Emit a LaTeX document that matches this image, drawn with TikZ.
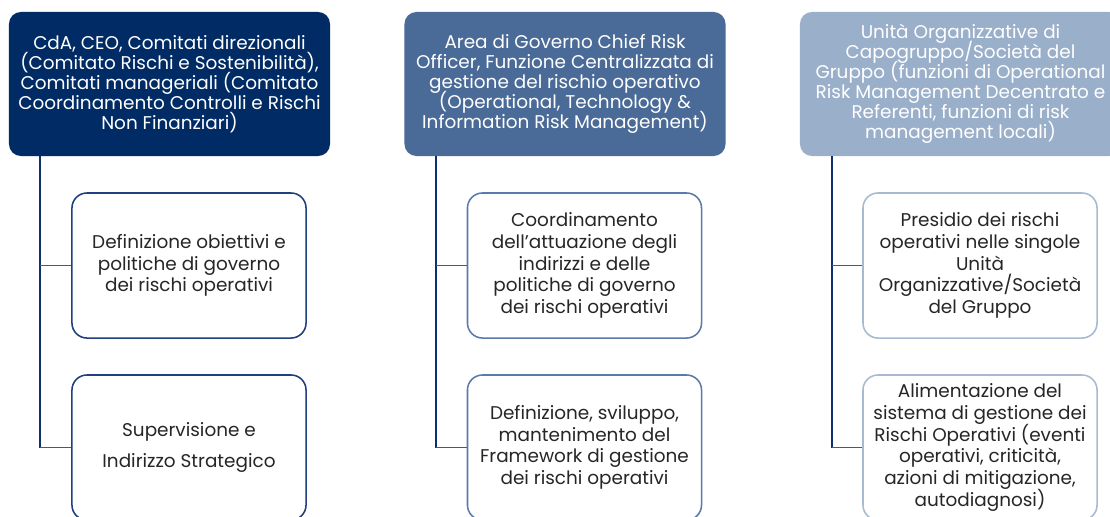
\documentclass[tikz,border=0pt]{standalone}
\usepackage{fontspec}
\setmainfont{Poppins}
\usepackage{tikz}
\usetikzlibrary{positioning,calc}
\definecolor{navA}{HTML}{002B64}
\definecolor{navB}{HTML}{4A6A98}
\definecolor{navC}{HTML}{9AAFCA}
\definecolor{edgeA}{HTML}{1F3F80}
\definecolor{edgeB}{HTML}{5A7AAA}
\definecolor{edgeC}{HTML}{A8BAD2}
\definecolor{trunkcol}{HTML}{0F2F6C}
\definecolor{branchcol}{HTML}{3A5A92}
\definecolor{ink}{HTML}{262626}
\newcommand{\headfont}{\fontsize{13.1pt}{14.3pt}\selectfont\lineskiplimit=-10pt\relax}
\newcommand{\taskfont}{\fontsize{13.1pt}{15.4pt}\selectfont\lineskiplimit=-10pt\relax}

\begin{document}
\begin{tikzpicture}[
    x=0.025cm, y=-0.025cm,
    head/.style={rectangle, rounded corners=0.3cm, fill=#1, draw=none,
                 minimum width=8.025cm, minimum height=3.6cm, inner sep=2pt,
                 text=white, align=center, font=\headfont},
    task/.style={rectangle, rounded corners=0.375cm, draw=#1, fill=white, line width=1.1pt,
                 minimum width=5.85cm, minimum height=3.625cm, inner sep=2pt,
                 text=ink, align=center, font=\taskfont},
    trunk/.style={line width=1.1pt, color=trunkcol},
    branch/.style={line width=1.1pt, color=branchcol}
  ]

% ---------------- frame ----------------
\clip (0,0) rectangle (1110,516);
\fill[white] (0,0) rectangle (1110,516);

% ---------------- geometry ----------------
\def\yh{84}       % centre of head row
\def\ya{265.5}    % centre of first task row
\def\yb{447.5}    % centre of second task row

% ---------------- heads ----------------
\node[head=navA] (h1) at (169.5, \yh)
  {CdA, CEO, Comitati direzionali\\(Comitato Rischi e Sostenibilità),\\Comitati manageriali (Comitato\\Coordinamento Controlli e Rischi\\Non Finanziari)};
\node[head=navB] (h2) at (565, \yh)
  {Area di Governo Chief Risk\\Officer, Funzione Centralizzata di\\gestione del rischio operativo\\(Operational, Technology \&\\Information Risk Management)};
\node[head=navC] (h3) at (960.5, \yh)
  {Unità Organizzative di\\Capogruppo/Società del\\Gruppo (funzioni di Operational\\Risk Management Decentrato e\\Referenti, funzioni di risk\\management locali)};

% ---------------- tasks ----------------
\node[task=edgeA] (t1a) at (189, \ya)
  {Definizione obiettivi e\\politiche di governo\\dei rischi operativi};
\node[task=edgeA] (t1b) at (189, \yb)
  {Supervisione e\\[7pt]Indirizzo Strategico};

\node[task=edgeB] (t2a) at (584.5, \ya)
  {Coordinamento\\dell’attuazione degli\\indirizzi e delle\\politiche di governo\\dei rischi operativi};
\node[task=edgeB] (t2b) at (584.5, \yb)
  {Definizione, sviluppo,\\mantenimento del\\Framework di gestione\\dei rischi operativi};

\node[task=edgeC] (t3a) at (980, \ya)
  {Presidio dei rischi\\operativi nelle singole\\Unità\\Organizzative/Società\\del Gruppo};
\node[task=edgeC] (t3b) at (980, \yb)
  {Alimentazione del\\sistema di gestione dei\\Rischi Operativi (eventi\\operativi, criticità,\\azioni di mitigazione,\\autodiagnosi)};

% ---------------- connectors ----------------
\coordinate (r1) at (40,156);
\coordinate (r2) at (436,156);
\coordinate (r3) at (832,156);
\foreach \i in {1,2,3} {
  \draw[trunk] (r\i) -- (r\i |- t\i b.west);
  \draw[branch] (r\i |- t\i a.west) -- (t\i a.west);
  \draw[branch] (r\i |- t\i b.west) -- (t\i b.west);
}

\end{tikzpicture}
\end{document}
